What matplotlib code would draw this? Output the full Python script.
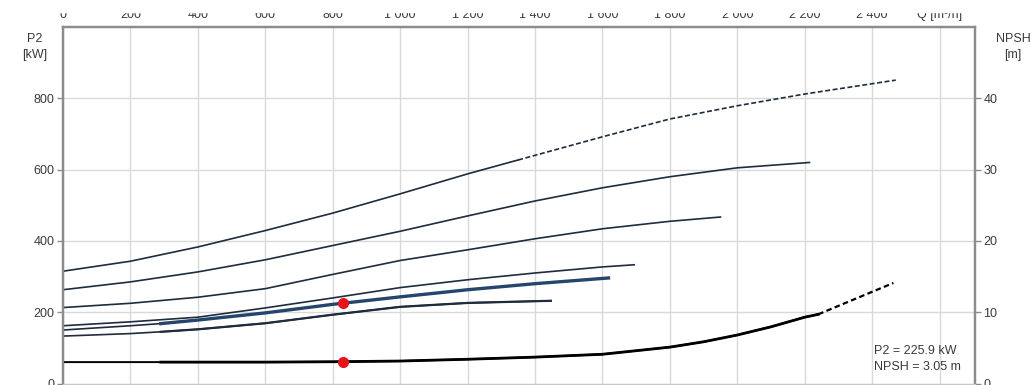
import numpy as np
import matplotlib.pyplot as plt
from matplotlib.patches import Rectangle

plt.rcParams['font.family'] = ['Liberation Sans', 'DejaVu Sans']

# P2 [kW] curves against flow Q [m3/h], top curve first
q1 = [0, 200, 400, 600, 800, 1000, 1200, 1350]
p1 = [315, 343, 383, 429, 478, 532, 588, 627]
q1_ext = [1350, 1400, 1600, 1800, 2000, 2200, 2470]
p1_ext = [627, 640, 692, 742, 779, 812, 851]

q2 = [0, 200, 400, 600, 800, 1000, 1200, 1400, 1600, 1800, 2000, 2200, 2214]
p2 = [263, 285, 313, 347, 387, 427, 470, 512, 549, 580, 605, 619, 620]

q3 = [0, 200, 400, 600, 800, 1000, 1200, 1400, 1600, 1800, 1950]
p3 = [213, 225, 242, 266, 306, 345, 375, 406, 434, 455, 467]

q4 = [0, 200, 400, 600, 800, 1000, 1200, 1400, 1600, 1694]
p4 = [162, 173, 186, 212, 240, 269, 291, 310, 327, 333]

q5 = [0, 200, 290, 400, 600, 800, 1000, 1200, 1400, 1618]
p5 = [150, 162, 168, 178, 198, 222, 243, 263, 280, 296]

q6 = [0, 200, 290, 400, 600, 800, 1000, 1200, 1447]
p6 = [133, 140, 145, 152, 169, 193, 215, 226, 232]

# NPSH [m]
qn = [0, 200, 290, 400, 600, 800, 1000, 1200, 1400, 1600, 1800, 1900, 2000, 2100, 2200, 2240]
npsh = [3.0, 3.0, 3.0, 3.0, 3.0, 3.05, 3.15, 3.4, 3.7, 4.1, 5.1, 5.85, 6.8, 7.95, 9.3, 9.7]
qn_ext = [2240, 2336, 2463]
npsh_ext = [9.7, 11.6, 14.1]

# duty point
q_duty = 830
p2_duty = 225.9
npsh_duty = 3.05

xticks = list(range(0, 2601, 200))
xlabels = ['0', '200', '400', '600', '800', '1 000', '1 200', '1 400',
           '1 600', '1 800', '2 000', '2 200', '2 400', 'Q [m³/h]']

line_c = '#1f2c3d'
grid_c = '#d9d9d9'
spine_c = '#8c8c8c'
text_c = '#3a3a3a'

fig = plt.figure(figsize=(10.35, 3.85), dpi=100)
ax = fig.add_axes([63 / 1035, 1.5 / 385, (975 - 63) / 1035, (384 - 26 - 1.5) / 385])
ax2 = ax.twinx()

ax.set_xlim(0, 2705)
ax.set_ylim(0, 1000)
ax2.set_ylim(0, 50)

ax.set_xticks(xticks)
ax.set_xticklabels(xlabels)
ax.set_yticks([0, 200, 400, 600, 800])
ax2.set_yticks([0, 10, 20, 30, 40])
ax.grid(True, color=grid_c, lw=1)
ax.set_axisbelow(True)

ax.tick_params(axis='x', top=True, labeltop=True, bottom=False, labelbottom=False,
               length=0, pad=4, labelsize=9, colors=text_c)
ax.tick_params(axis='y', length=4, width=1, color=spine_c, labelsize=9,
               labelcolor=text_c, pad=2)
ax2.tick_params(axis='y', length=4, width=1, color=spine_c, labelsize=9,
                labelcolor=text_c, pad=2)

for a in (ax, ax2):
    for side in ['left', 'right', 'top']:
        a.spines[side].set_color(spine_c)
        a.spines[side].set_linewidth(1.6)
    a.spines['bottom'].set_color('#c8c8c8')

# power curves
ax.plot(q1, p1, color=line_c, lw=1.2)
ax.plot(q1_ext, p1_ext, color=line_c, lw=1.2, ls=(0, (3, 1.5)))
ax.plot(q2, p2, color=line_c, lw=1.2)
ax.plot(q3, p3, color=line_c, lw=1.2)
ax.plot(q4, p4, color=line_c, lw=1.2)
ax.plot(q5, p5, color=line_c, lw=1.2)
ax.plot(q5[2:], p5[2:], color='#24466d', lw=2.4)
ax.plot(q6, p6, color=line_c, lw=1.2)
ax.plot(q6[2:], p6[2:], color=line_c, lw=1.6)

# NPSH curve on the right axis
ax2.plot(qn, npsh, color='black', lw=1.4)
ax2.plot(qn[2:], npsh[2:], color='black', lw=2.0)
ax2.plot(qn_ext, npsh_ext, color='black', lw=1.6, ls=(0, (2.5, 1.5)))

ax.plot(q_duty, p2_duty, 'o', color='#e8141c', ms=7, zorder=5)
ax2.plot(q_duty, npsh_duty, 'o', color='#e8141c', ms=7, zorder=5)

ax.text(0.889, 0.03, f'P2 = {p2_duty} kW\nNPSH = {npsh_duty} m',
        transform=ax.transAxes, ha='left', va='bottom', fontsize=9,
        color=text_c, linespacing=1.45)

fig.text(35 / 1035, 1 - 47 / 385, 'P2\n[kW]', ha='center', va='center',
         fontsize=9, color=text_c, linespacing=1.5)
fig.text(1013 / 1035, 1 - 47 / 385, 'NPSH\n[m]', ha='center', va='center',
         fontsize=9, color=text_c, linespacing=1.5)

# blank strip across the very top of the image
fig.add_artist(Rectangle((0, 1 - 12 / 385), 1, 12 / 385, transform=fig.transFigure,
                         color='white', zorder=10))

fig.savefig('out.png', dpi=100)
